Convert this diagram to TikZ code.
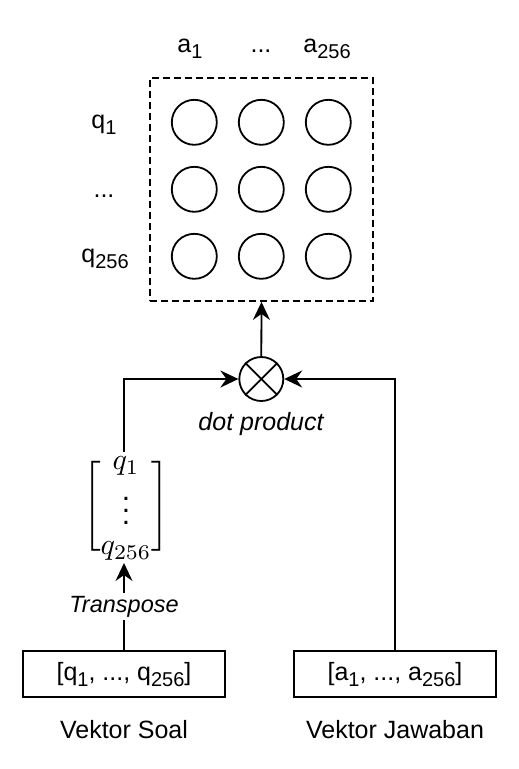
\documentclass[tikz,border=0pt]{standalone}
\usepackage{amsmath}
\usepackage{graphicx}
\usepackage{fontspec}
\setmainfont{Liberation Sans}
\usetikzlibrary{arrows.meta}
\newcommand\sbs[1]{\raisebox{-6pt}[0pt][0pt]{\fontsize{20}{20}\selectfont #1}}
\begin{document}
\begin{tikzpicture}[x=1pt,y=-1pt,
  lbl/.style={font=\fontsize{25}{30}\selectfont, inner sep=0pt},
  cell/.style={circle, draw, line width=1.8pt, minimum size=45pt, inner sep=0pt},
  vecbox/.style={draw, line width=1.8pt, minimum width=202pt, minimum height=46pt, inner sep=0pt, font=\fontsize{25}{30}\selectfont},
  conn/.style={line width=1.8pt},
  arr/.style={conn, -{Stealth[length=18pt,width=17pt,inset=6pt]}},
]
\useasboundingbox (0,0) rectangle (519,769);
% result matrix
\node[draw, line width=1.8pt, dash pattern=on 7pt off 4pt, minimum width=223pt, minimum height=223pt, inner sep=0pt] (mat) at (261.5,189.5) {};
\foreach \r/\y in {1/122.3,2/189.3,3/256.3}{
  \foreach \c/\x in {1/194.3,2/261.3,3/328.3}{
    \node[cell] (c\r\c) at (\x,\y) {};
  }
}
% labels
\node[lbl, anchor=base] (la1) at (190,52) {a\sbs{1}};
\node[lbl, anchor=base] (lad) at (261,52) {...};
\node[lbl, anchor=base] (lan) at (327,52) {a\sbs{256}};
\node[lbl, anchor=base] (lq1) at (104,128) {q\sbs{1}};
\node[lbl, anchor=base] (lqd) at (104,197) {...};
\node[lbl, anchor=base] (lqn) at (105,262) {q\sbs{256}};
% dot product operator
\node[circle, draw, line width=1.8pt, minimum size=44pt, inner sep=0pt] (dot) at (261.3,379) {};
\draw[conn] (dot.north east) -- (dot.south west);
\draw[conn] (dot.north west) -- (dot.south east);
\node[lbl, anchor=base, font=\fontsize{25}{30}\selectfont\itshape] (dpl) at (261,430) {dot product};
\draw[arr] (dot.north) -- (mat.south);
% transposed vector
\node[inner sep=0pt, font=\fontsize{10}{12}\selectfont] (qv) at (126,506)
  {\scalebox{3.0}{\renewcommand\arraystretch{0.85}$\Biggl[\begin{matrix} q_1\\ \vdots\\ q_{256}\end{matrix}\Biggr]$}};
\coordinate (qtop) at (124,452);
\coordinate (qbot) at (124,563);
% vector boxes
\node[vecbox] (vs) at (124,674) {[q\sbs{1}, ..., q\sbs{256}]};
\node[vecbox] (va) at (395,674) {[a\sbs{1}, ..., a\sbs{256}]};
\node[lbl, anchor=base] (vsl) at (124,738) {Vektor Soal};
\node[lbl, anchor=base] (val) at (395,738) {Vektor Jawaban};
% connectors
\draw[arr] (vs.north) -- node[fill=white, inner sep=3pt, font=\fontsize{23.5}{28}\selectfont\itshape] (tp) {Transpose} (qbot);
\draw[arr] (qtop) |- (dot.west);
\draw[arr] (va.north) |- (dot.east);
\end{tikzpicture}
\end{document}
